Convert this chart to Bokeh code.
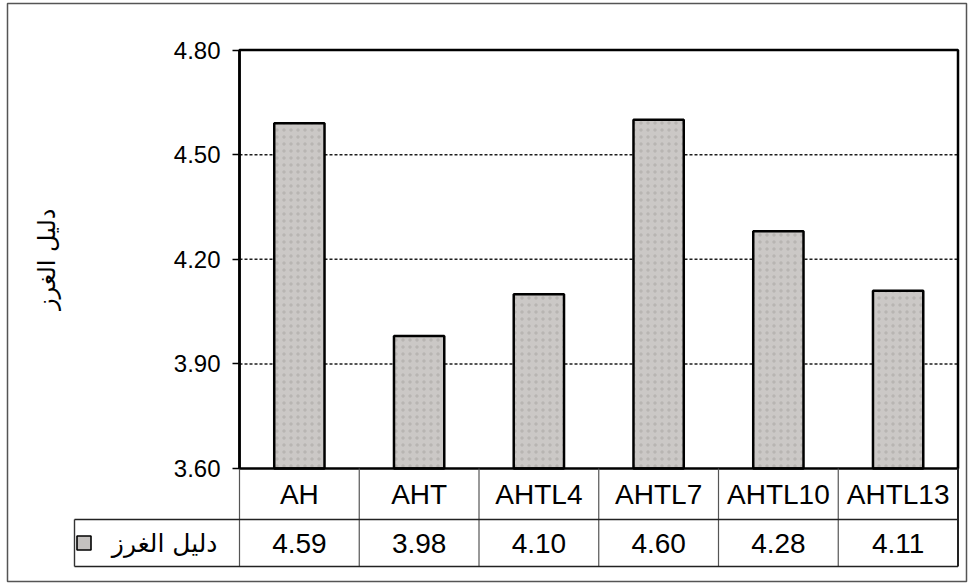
import numpy as np
from bokeh.plotting import figure
from bokeh.models import Range1d, FixedTicker, PrintfTickFormatter
from bokeh.core.properties import value
from bokeh.embed import file_html
from bokeh.resources import INLINE

# ---- data ----
categories = ["AH", "AHT", "AHTL4", "AHTL7", "AHTL10", "AHTL13"]
stitch_index = [4.59, 3.98, 4.10, 4.60, 4.28, 4.11]
series_name = "دليل الغرز"
y_ticks = [3.60, 3.90, 4.20, 4.50, 4.80]

# ---- page layout (pixels) ----
W, H = 970, 583
FRAME_L, FRAME_R, FRAME_T, FRAME_B = 7, 966, 3, 581
PLOT_L, PLOT_R, PLOT_T, PLOT_B = 239, 957.5, 49.5, 468
ROW_SPLIT, TABLE_B = 519, 566
LEGEND_L = 74

n = len(categories)
y0, y1 = y_ticks[0], y_ticks[-1]
col_px = (PLOT_R - PLOT_L) / n
unit_px = (PLOT_B - PLOT_T) / (y1 - y0)


def dx(px):
    return (px - PLOT_L) / col_px


def dy(py):
    return y1 - (py - PLOT_T) / unit_px


p = figure(
    width=W, height=H,
    x_range=Range1d(dx(FRAME_L), dx(FRAME_R)),
    y_range=Range1d(dy(FRAME_B), dy(FRAME_T)),
    x_axis_location=None,
    min_border_left=FRAME_L, min_border_right=W - FRAME_R,
    min_border_top=FRAME_T, min_border_bottom=H - FRAME_B,
    output_backend="svg", toolbar_location=None,
    background_fill_color="white", border_fill_color="white",
)
p.outline_line_color = "#555555"
p.outline_line_width = 1.5
p.xgrid.visible = False
p.ygrid.visible = False

# value axis pinned at the left edge of the plotting box
ax = p.yaxis[0]
ax.fixed_location = 0
ax.bounds = (y0, y1)
ax.ticker = FixedTicker(ticks=y_ticks)
ax.formatter = PrintfTickFormatter(format="%.2f")
ax.axis_line_color = "black"
ax.axis_line_width = 2.5
ax.major_tick_line_color = "black"
ax.major_tick_line_width = 1.5
ax.major_tick_out = 7
ax.major_tick_in = 0
ax.minor_tick_out = 0
ax.minor_tick_in = 0
ax.major_label_standoff = 12
ax.major_label_text_font = "Liberation Sans"
ax.major_label_text_font_size = "24px"
ax.major_label_text_color = "black"

xs = [i + 0.5 for i in range(n)]

# dotted horizontal gridlines inside the plotting box
grid_y = [t for t in y_ticks if y0 < t < y1]
p.segment(x0=[0] * len(grid_y), x1=[n] * len(grid_y), y0=grid_y, y1=grid_y,
          line_color="#1e1e1e", line_width=1.5, line_dash="3 2")

# bars
p.vbar(x=xs, top=stitch_index, bottom=y0, width=0.42,
       fill_color="#cbc8c6", line_color="black", line_width=2.5,
       hatch_pattern=".", hatch_color="#8a8785", hatch_alpha=0.3,
       hatch_scale=7, hatch_weight=1)

# plotting-box border
p.quad(left=[0], right=[n], bottom=[y0], top=[y1],
       fill_alpha=0, line_color="black", line_width=2.5)

# data table grid
row1_c = dy((PLOT_B + ROW_SPLIT) / 2)
row2_c = dy((ROW_SPLIT + TABLE_B) / 2)
col_edges = list(range(n + 1))
p.segment(x0=col_edges[:-1], x1=col_edges[:-1],
          y0=[y0] * n, y1=[dy(TABLE_B)] * n,
          line_color="#555555", line_width=1.2)
p.segment(x0=[n], x1=[n], y0=[y0], y1=[dy(TABLE_B)],
          line_color="#222222", line_width=2)
p.segment(x0=[dx(LEGEND_L)] * 2, x1=[n] * 2,
          y0=[dy(ROW_SPLIT), dy(TABLE_B)], y1=[dy(ROW_SPLIT), dy(TABLE_B)],
          line_color="#222222", line_width=1.6)
p.segment(x0=[dx(LEGEND_L)], x1=[dx(LEGEND_L)],
          y0=[dy(ROW_SPLIT)], y1=[dy(TABLE_B)],
          line_color="#333333", line_width=1.4)

# category row and value row
p.text(x=xs, y=[row1_c] * n, text=categories,
       text_align="center", text_baseline="middle",
       text_font=value("Liberation Sans"), text_font_size="28px",
       text_color="black")
p.text(x=xs, y=[row2_c] * n, text=[f"{v:.2f}" for v in stitch_index],
       text_align="center", text_baseline="middle",
       text_font=value("Liberation Sans"), text_font_size="28px",
       text_color="black")

# legend key in the table's first column
p.rect(x=[dx(83.5)], y=[row2_c], width=14, height=14,
       width_units="screen", height_units="screen",
       fill_color="#c4c1bf", line_color="black", line_width=1.6)
p.text(x=[dx(217)], y=[row2_c], text=[series_name],
       text_align="right", text_baseline="middle",
       text_font=value("DejaVu Sans"), text_font_size="25px",
       text_color="black")

# value-axis title
p.text(x=[dx(46)], y=[(y0 + y1) / 2], text=[series_name], angle=np.pi / 2,
       text_align="center", text_baseline="middle",
       text_font=value("DejaVu Sans"), text_font_size="24px",
       text_color="black")

open("out.html", "w").write(file_html(p, INLINE))
